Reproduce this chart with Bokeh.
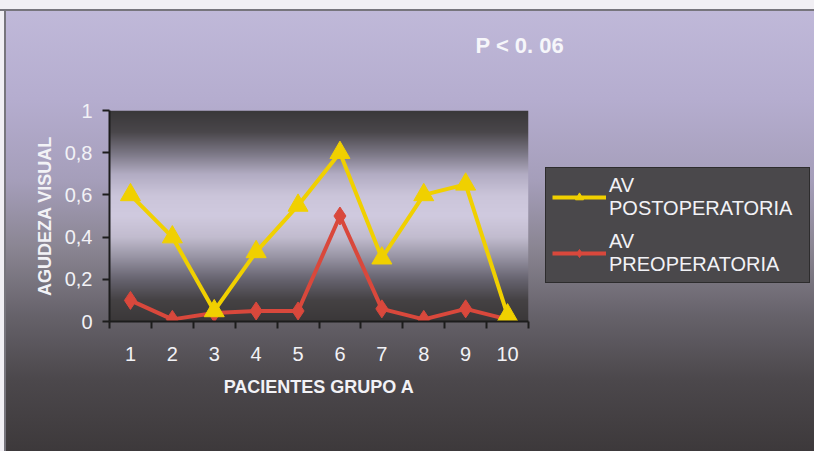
import numpy as np
from bokeh.plotting import figure
from bokeh.models import FixedTicker, Legend, LegendItem
from bokeh.embed import file_html
from bokeh.resources import INLINE

# ---- data -------------------------------------------------------------
patients = [1, 2, 3, 4, 5, 6, 7, 8, 9, 10]
av_post = [0.6, 0.4, 0.05, 0.33, 0.55, 0.8, 0.3, 0.6, 0.65, 0.03]
av_pre = [0.1, 0.01, 0.04, 0.05, 0.05, 0.5, 0.06, 0.01, 0.06, 0.01]
y_ticks = [0, 0.2, 0.4, 0.6, 0.8, 1]
y_tick_labels = ["0", "0,2", "0,4", "0,6", "0,8", "1"]

YELLOW = "#f0d000"
RED = "#d9483c"
TEXT = "#f2f2f6"
AXIS = "#1c1c1c"
FONT = "Liberation Sans"

# page background: lavender fading to dark grey, with a thin frame top/left
page_bg = (
    "linear-gradient(to bottom, #f1eff4 0px, #f1eff4 9px, #77757d 9px, #77757d 11px, transparent 11px),"
    "linear-gradient(to right, #f1eff4 0px, #f1eff4 4px, #77757d 4px, #77757d 6px, transparent 6px),"
    "linear-gradient(to bottom, #c1bada 0%, #b5adcf 22%, #a59eba 40%, #8a8592 55%, "
    "#66626a 70%, #4c484c 84%, #3d393b 100%)"
)

p = figure(
    frame_width=419, frame_height=211,
    x_range=(0.5, 10.5), y_range=(0, 1),
    output_backend="svg", toolbar_location=None,
    min_border_left=109, min_border_right=286,
    min_border_top=110, min_border_bottom=130,
    border_fill_color=None, background_fill_color=None,
    outline_line_color=None,
    styles={"background": page_bg},
)

# plot-area shading: dark at top and bottom, light band in the middle
stops_v = [0.0, 0.1, 0.2, 0.3, 0.4, 0.5, 0.6, 0.7, 0.8, 0.9, 1.0]
stops_c = ["#3b3839", "#454244", "#676470", "#9692a2", "#c2bccf", "#d0cadf",
           "#cbc5da", "#b2acc3", "#7a7684", "#4a474b", "#3a383a"]
rgb = np.array([[int(c[i:i + 2], 16) for i in (1, 3, 5)] for c in stops_c], float)
n = 211
v = np.linspace(0, 1, n)
img = np.empty((n, 2), dtype=np.uint32)
view = img.view(dtype=np.uint8).reshape((n, 2, 4))
for k in range(3):
    view[:, :, k] = np.interp(v, stops_v, rgb[:, k])[:, None].astype(np.uint8)
view[:, :, 3] = 255
p.image_rgba(image=[img], x=p.x_range.start, y=p.y_range.start,
             dw=p.x_range.end - p.x_range.start, dh=p.y_range.end - p.y_range.start,
             level="image")

# series
pre_line = p.line(patients, av_pre, line_color=RED, line_width=4)
pre_pts = p.scatter(patients, av_pre, marker="diamond", size=18,
                    fill_color=RED, line_color=RED)
post_line = p.line(patients, av_post, line_color=YELLOW, line_width=4)
post_pts = p.scatter(patients, av_post, marker="triangle", size=20,
                     fill_color=YELLOW, line_color=YELLOW)

p.xgrid.visible = False
p.ygrid.visible = False

# x axis: labels at patients, tick marks between them
bounds = [x - 0.5 for x in patients] + [patients[-1] + 0.5]
p.xaxis.ticker = FixedTicker(ticks=patients, minor_ticks=bounds)
p.xaxis.major_tick_out = 0
p.xaxis.major_tick_in = 0
p.xaxis.minor_tick_out = 7
p.xaxis.minor_tick_in = 0
p.xaxis.minor_tick_line_color = AXIS
p.xaxis.minor_tick_line_width = 2
p.xaxis.major_label_standoff = 18
p.xaxis.axis_label = "PACIENTES GRUPO A"
p.xaxis.axis_label_standoff = 13

# y axis
p.yaxis.ticker = FixedTicker(ticks=y_ticks)
p.yaxis.major_label_overrides = dict(zip(y_ticks, y_tick_labels))
p.yaxis.major_tick_out = 7
p.yaxis.major_tick_in = 0
p.yaxis.major_tick_line_color = AXIS
p.yaxis.major_tick_line_width = 2
p.yaxis.minor_tick_line_color = None
p.yaxis.major_label_standoff = 10
p.yaxis.axis_label = "AGUDEZA VISUAL"
p.yaxis.axis_label_standoff = 7

for ax in (p.xaxis, p.yaxis):
    ax.axis_line_color = AXIS
    ax.axis_line_width = 2
    ax.major_label_text_font = FONT
    ax.major_label_text_font_size = "20px"
    ax.major_label_text_color = TEXT
    ax.axis_label_text_font = FONT
    ax.axis_label_text_font_size = "18px"
    ax.axis_label_text_font_style = "bold"
    ax.axis_label_text_color = TEXT

# heading; the trailing blank line lifts it higher above the plot area
p.title.text = "P < 0. 06\n"
p.title.align = "left"
p.title.offset = 366
p.title.standoff = 56
p.title.text_font = FONT
p.title.text_font_size = "22px"
p.title.text_font_style = "bold"
p.title.text_color = "#f6f6fa"

# legend box to the right of the plot area
legend = Legend(
    items=[
        LegendItem(label="AV\nPOSTOPERATORIA", renderers=[post_line, post_pts]),
        LegendItem(label="AV\nPREOPERATORIA", renderers=[pre_line, pre_pts]),
    ],
    location=(17, 38),
    margin=0,
    padding=6,
    spacing=10,
    glyph_width=54,
    glyph_height=20,
    label_standoff=3,
    label_width=194,
    label_text_font=FONT,
    label_text_font_size="20px",
    label_text_color=TEXT,
    background_fill_color="#4a484b",
    background_fill_alpha=1,
    border_line_color="#101010",
    border_line_width=1.5,
)
p.add_layout(legend, "right")

open("out.html", "w").write(file_html(p, INLINE))
